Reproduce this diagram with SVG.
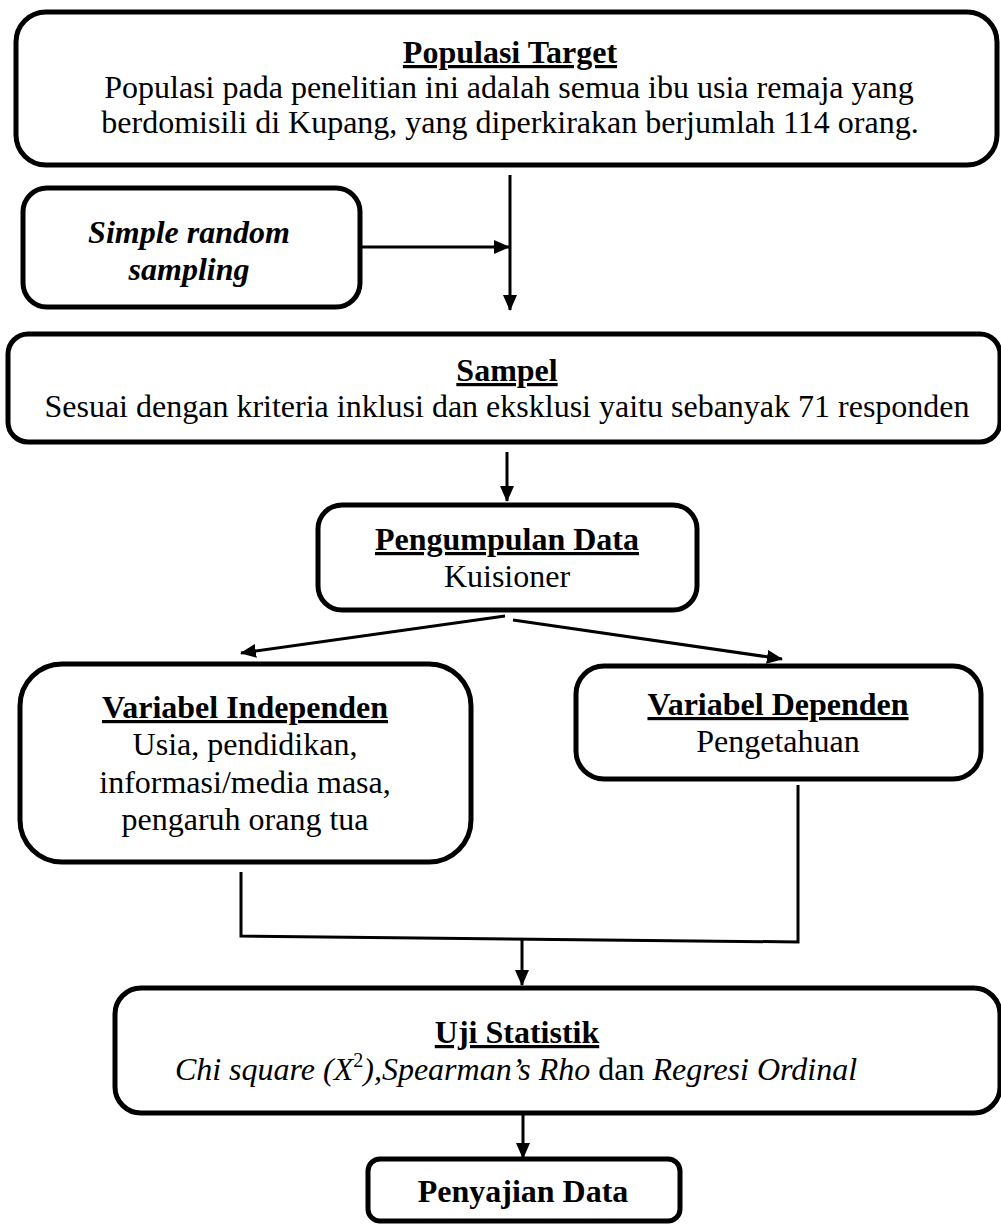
<svg xmlns="http://www.w3.org/2000/svg" width="1001" height="1224" viewBox="0 0 1001 1224">
<style>
.box{fill:#fff;stroke:#000;stroke-width:5}
.t{font-family:"Liberation Serif","Times New Roman",serif;font-size:32px;fill:#000;text-anchor:middle}
.h{font-weight:bold;text-decoration:underline}
.b{font-weight:bold}
.i{font-style:italic}
.c{fill:none;stroke:#000;stroke-width:3}
</style>
<defs>
<marker id="ah" markerUnits="userSpaceOnUse" markerWidth="16" markerHeight="16" viewBox="0 0 16 16" refX="15" refY="8" orient="auto">
<path d="M0,1 L16,8 L0,15 Z" fill="#000"/>
</marker>
</defs>
<rect width="1001" height="1224" fill="#fff"/>
<g id="connectors">
<line class="c" x1="510" y1="175" x2="510" y2="310" marker-end="url(#ah)"/>
<line class="c" x1="360" y1="247" x2="509" y2="247" marker-end="url(#ah)"/>
<line class="c" x1="507" y1="452" x2="507" y2="501" marker-end="url(#ah)"/>
<line class="c" x1="505" y1="616" x2="241" y2="653" marker-end="url(#ah)"/>
<line class="c" x1="513" y1="620" x2="782" y2="659" marker-end="url(#ah)"/>
<polyline class="c" points="241,872 241,936 798,942 798,785"/>
<line class="c" x1="522" y1="938" x2="522" y2="985" marker-end="url(#ah)"/>
<line class="c" x1="523" y1="1113" x2="523" y2="1158" marker-end="url(#ah)"/>
</g>
<g id="populasi">
<rect class="box" x="16" y="12" width="981" height="153" rx="30"/>
<text class="t h" x="510" y="63">Populasi Target</text>
<text class="t" x="509" y="98">Populasi pada penelitian ini adalah semua ibu usia remaja yang</text>
<text class="t" x="510" y="133">berdomisili di Kupang, yang diperkirakan berjumlah 114 orang.</text>
</g>
<g id="sampling">
<rect class="box" x="23" y="188" width="337" height="119" rx="24"/>
<text class="t b i" x="189" y="243">Simple random</text>
<text class="t b i" x="189" y="280">sampling</text>
</g>
<g id="sampel">
<rect class="box" x="8" y="334" width="992" height="108" rx="20"/>
<text class="t h" x="507" y="381">Sampel</text>
<text class="t" x="507" y="417">Sesuai dengan kriteria inklusi dan eksklusi yaitu sebanyak 71 responden</text>
</g>
<g id="pengumpulan">
<rect class="box" x="318" y="505" width="379" height="105" rx="24"/>
<text class="t h" x="507" y="550">Pengumpulan Data</text>
<text class="t" x="507" y="587">Kuisioner</text>
</g>
<g id="independen">
<rect class="box" x="20" y="664" width="451" height="198" rx="42"/>
<text class="t h" x="245" y="718">Variabel Independen</text>
<text class="t" x="245" y="755">Usia, pendidikan,</text>
<text class="t" x="245" y="793">informasi/media masa,</text>
<text class="t" x="245" y="830">pengaruh orang tua</text>
</g>
<g id="dependen">
<rect class="box" x="576" y="666" width="405" height="113" rx="28"/>
<text class="t h" x="778" y="715">Variabel Dependen</text>
<text class="t" x="778" y="752">Pengetahuan</text>
</g>
<g id="uji">
<rect class="box" x="115" y="988" width="885" height="125" rx="26"/>
<text class="t h" x="517" y="1043">Uji Statistik</text>
<text class="t" x="516" y="1080"><tspan class="i">Chi square (X</tspan><tspan font-size="20" dy="-13">2</tspan><tspan class="i" dy="13">),Spearman’s Rho</tspan> dan <tspan class="i">Regresi Ordinal</tspan></text>
</g>
<g id="penyajian">
<rect class="box" x="368" y="1159" width="312" height="62" rx="12"/>
<text class="t b" x="523" y="1202">Penyajian Data</text>
</g>
</svg>
